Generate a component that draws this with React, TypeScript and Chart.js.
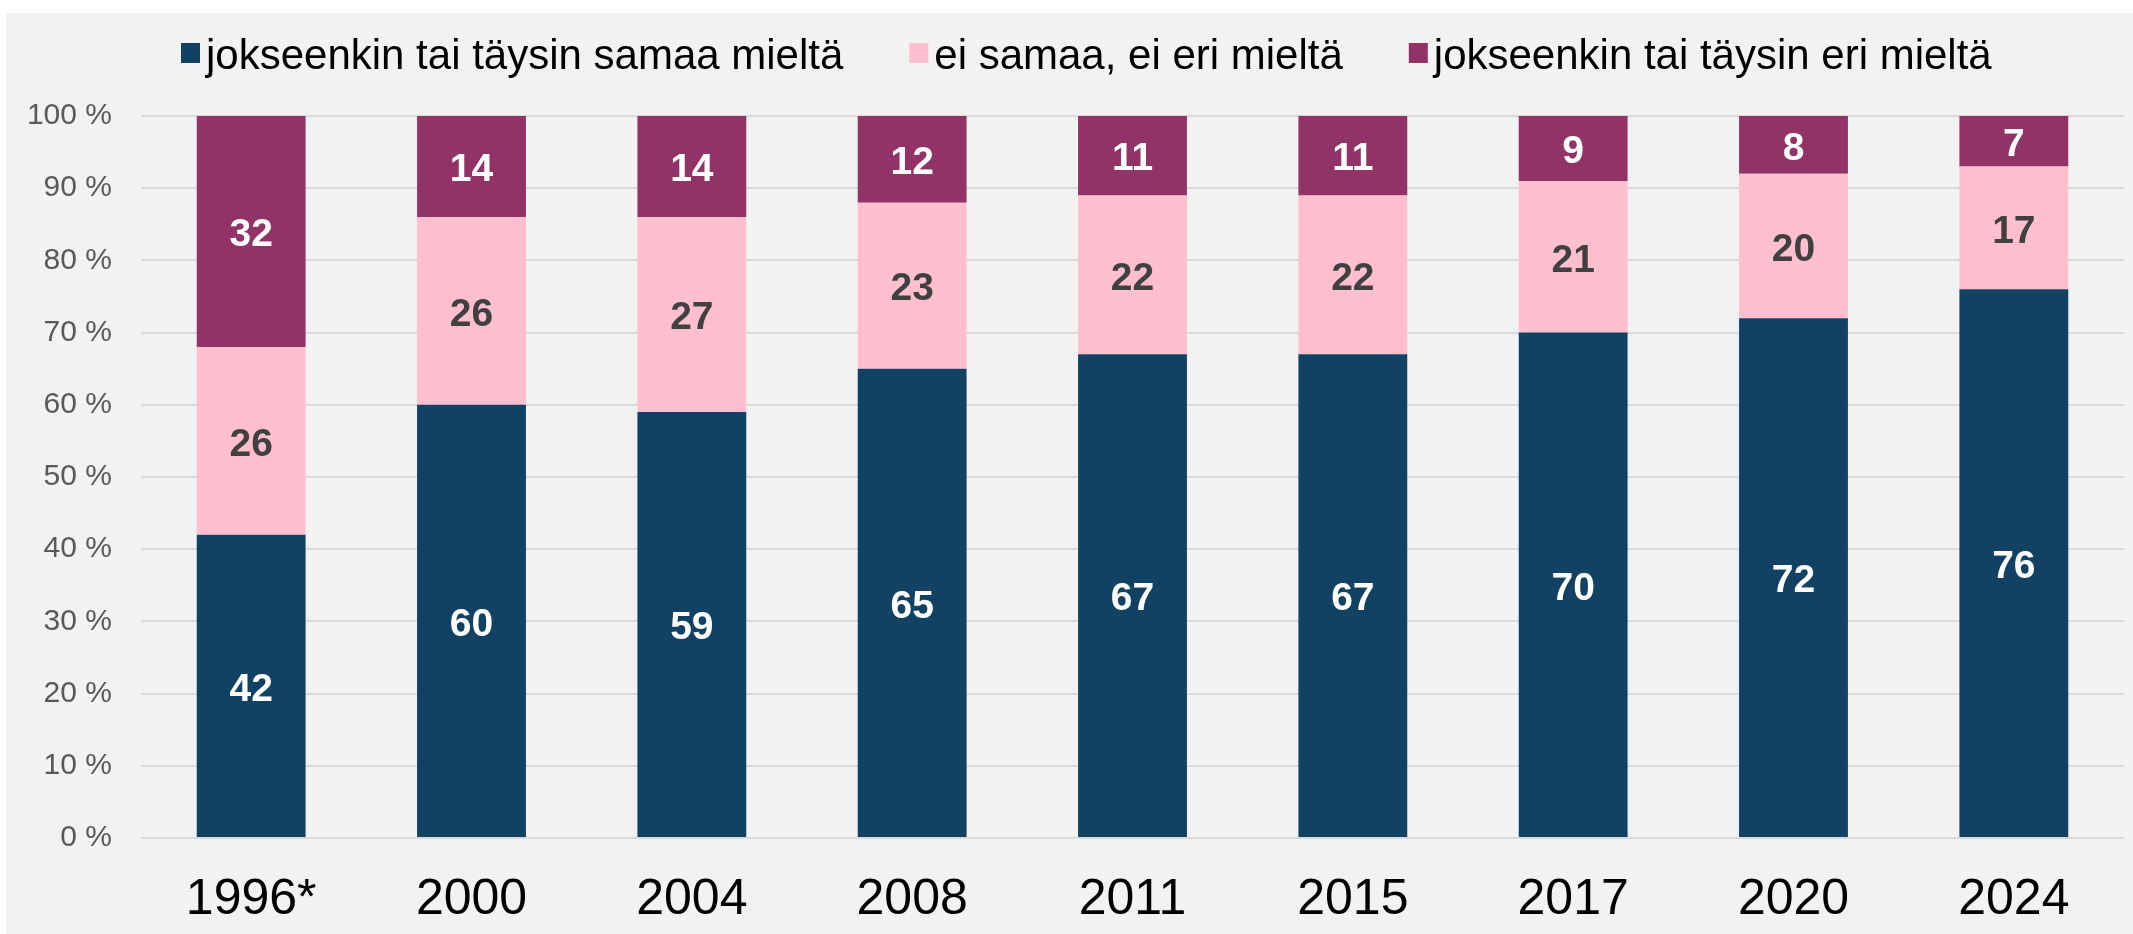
import React, { useEffect, useRef } from "react";
import { Chart, registerables } from "chart.js";

Chart.register(...registerables);

const years = ["1996*", "2000", "2004", "2008", "2011", "2015", "2017", "2020", "2024"];
const agree = [42, 60, 59, 65, 67, 67, 70, 72, 76];
const neutral = [26, 26, 27, 23, 22, 22, 21, 20, 17];
const disagree = [32, 14, 14, 12, 11, 11, 9, 8, 7];
const seriesNames = [
  "jokseenkin tai täysin samaa mieltä",
  "ei samaa, ei eri mieltä",
  "jokseenkin tai täysin eri mieltä",
];
const seriesColors = ["#124263", "#FFBFCF", "#913366"];
const labelColors = ["#FFFFFF", "#404040", "#FFFFFF"];

const SANS = '"Liberation Sans", Arial, sans-serif';

const legendPlugin = {
  id: "customLegend",
  afterDraw(chart: any) {
    const ctx = chart.ctx;
    ctx.save();
    ctx.font = `42px ${SANS}`;
    ctx.textBaseline = "alphabetic";
    ctx.textAlign = "left";
    const box = 19;
    const gap = 6;
    const itemGap = 66;
    let x = 175;
    chart.data.datasets.forEach((ds: any) => {
      ctx.fillStyle = ds.backgroundColor;
      ctx.fillRect(x, 30, box, 20);
      x += box + gap;
      ctx.fillStyle = "#000000";
      ctx.fillText(ds.label, x, 56);
      x += ctx.measureText(ds.label).width + itemGap;
    });
    ctx.restore();
  },
};

const valueLabelPlugin = {
  id: "valueLabels",
  afterDatasetsDraw(chart: any) {
    const ctx = chart.ctx;
    ctx.save();
    ctx.font = `bold 39px ${SANS}`;
    ctx.textAlign = "center";
    ctx.textBaseline = "middle";
    chart.data.datasets.forEach((ds: any, i: number) => {
      const meta = chart.getDatasetMeta(i);
      meta.data.forEach((bar: any, j: number) => {
        const v = ds.data[j];
        if (!v) return;
        ctx.fillStyle = labelColors[i];
        ctx.fillText(String(v), bar.x, (bar.y + bar.base) / 2 + 4);
      });
    });
    ctx.restore();
  },
};

export default function App() {
  const ref = useRef<HTMLCanvasElement | null>(null);

  useEffect(() => {
    if (!ref.current) return;
    const series = [agree, neutral, disagree];
    const chart = new Chart(ref.current, {
      type: "bar",
      data: {
        labels: years,
        datasets: series.map((d, i) => ({
          label: seriesNames[i],
          data: d,
          backgroundColor: seriesColors[i],
          borderWidth: 0,
          categoryPercentage: 1,
          barPercentage: 0.494,
        })),
      },
      options: {
        animation: false,
        responsive: false,
        maintainAspectRatio: false,
        layout: { padding: { left: 0, right: 9, top: 103, bottom: 0 } },
        plugins: {
          legend: { display: false },
          tooltip: { enabled: false },
          title: { display: false },
        },
        scales: {
          x: {
            stacked: true,
            grid: { display: false, drawTicks: false },
            border: { display: false },
            ticks: {
              color: "#000000",
              font: { family: SANS, size: 50 },
              padding: 32,
              maxRotation: 0,
            },
            afterFit(scale: any) {
              scale.height = 96;
            },
          },
          y: {
            stacked: true,
            min: 0,
            max: 100,
            grid: { color: "#D9D9D9", lineWidth: 2, drawTicks: false },
            border: { display: false },
            ticks: {
              stepSize: 10,
              color: "#595959",
              font: { family: SANS, size: 30 },
              padding: 29,
              callback: (v: any) => `${v} %`,
            },
            afterFit(scale: any) {
              scale.width = 135;
            },
          },
        },
      },
      plugins: [legendPlugin, valueLabelPlugin],
    });
    return () => chart.destroy();
  }, []);

  return (
    <div
      style={{
        position: "fixed",
        left: 6,
        top: 13,
        width: 2127,
        height: 921,
        background: "#F2F2F2",
      }}
    >
      <canvas ref={ref} width={2127} height={921} style={{ display: "block" }} />
    </div>
  );
}
